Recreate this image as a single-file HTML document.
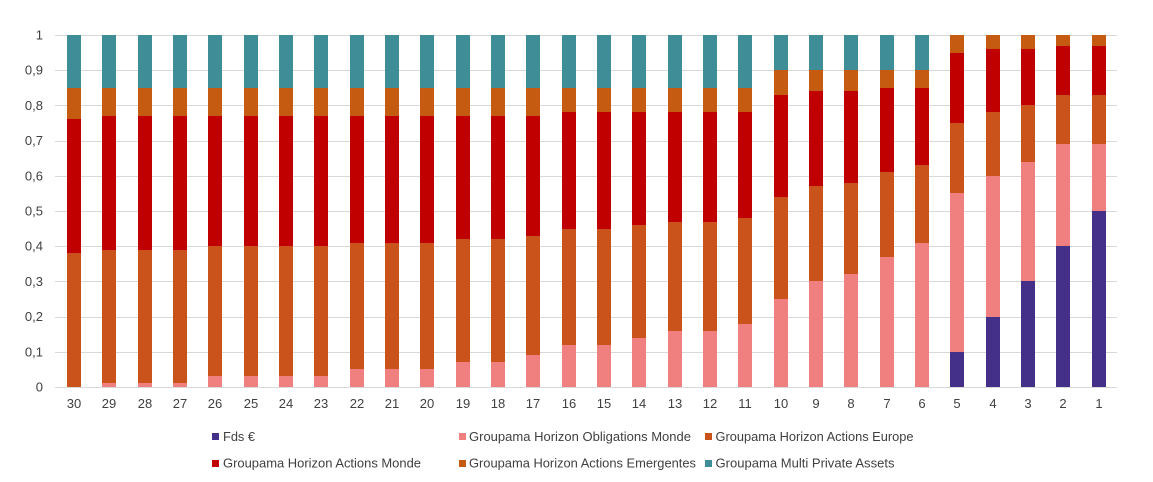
<!DOCTYPE html>
<html><head><meta charset="utf-8"><style>
html,body{margin:0;padding:0;background:#fff;}
svg{display:block;}
text{font-family:"Liberation Sans",sans-serif;fill:#404040;}
</style></head><body>
<svg width="1153" height="482" viewBox="0 0 1153 482" xmlns="http://www.w3.org/2000/svg" shape-rendering="crispEdges">
<g id="grid" stroke="#d9d9d9" stroke-width="1"></g>
<g id="bars"></g>
<g id="ylab" font-size="13" text-anchor="end"></g>
<g id="xlab" font-size="13" text-anchor="middle"></g>
<g font-size="13">
<rect x="212" y="433" width="7" height="7" fill="#443088"/>
<text x="223" y="441" textLength="32" lengthAdjust="spacingAndGlyphs">Fds €</text>
<rect x="459" y="433" width="7" height="7" fill="#F08080"/>
<text x="469" y="441" textLength="222" lengthAdjust="spacingAndGlyphs">Groupama Horizon Obligations Monde</text>
<rect x="705" y="433" width="7" height="7" fill="#CA531C"/>
<text x="715.5" y="441" textLength="198" lengthAdjust="spacingAndGlyphs">Groupama Horizon Actions Europe</text>
<rect x="212" y="460" width="7" height="7" fill="#C00000"/>
<text x="223" y="467.5" textLength="198" lengthAdjust="spacingAndGlyphs">Groupama Horizon Actions Monde</text>
<rect x="459" y="460" width="7" height="7" fill="#C55A11"/>
<text x="469" y="467.5" textLength="227" lengthAdjust="spacingAndGlyphs">Groupama Horizon Actions Emergentes</text>
<rect x="705" y="460" width="7" height="7" fill="#3F8D96"/>
<text x="715.5" y="467.5" textLength="179" lengthAdjust="spacingAndGlyphs">Groupama Multi Private Assets</text>
</g>
</svg>
<script>
(function(){
var NS="http://www.w3.org/2000/svg";
function y(v){return 387-352*v;}
var grid=document.getElementById("grid"),ylab=document.getElementById("ylab"),xlab=document.getElementById("xlab"),bars=document.getElementById("bars");
for(var i=0;i<=10;i++){
 var yy=Math.round(y(i/10))+0.5;
 var l=document.createElementNS(NS,"line");
 l.setAttribute("x1",55);l.setAttribute("x2",1117);l.setAttribute("y1",yy);l.setAttribute("y2",yy);
 grid.appendChild(l);
 var t=document.createElementNS(NS,"text");
 t.setAttribute("x",43);t.setAttribute("y",y(i/10)+4.5);
 t.textContent=(i==0?"0":(i==10?"1":"0,"+i));
 ylab.appendChild(t);
}
var fds=[0,0,0,0,0,0,0,0,0,0,0,0,0,0,0,0,0,0,0,0,0,0,0,0,0,.1,.2,.3,.4,.5];
var obl=[0,.01,.01,.01,.03,.03,.03,.03,.05,.05,.05,.07,.07,.09,.12,.12,.14,.16,.16,.18,.25,.30,.32,.37,.41,.55,.60,.64,.69,.69];
var eur=[.38,.39,.39,.39,.40,.40,.40,.40,.41,.41,.41,.42,.42,.43,.45,.45,.46,.47,.47,.48,.54,.57,.58,.61,.63,.75,.78,.80,.83,.83];
var mon=[.76,.77,.77,.77,.77,.77,.77,.77,.77,.77,.77,.77,.77,.77,.78,.78,.78,.78,.78,.78,.83,.84,.84,.85,.85,.95,.96,.96,.97,.97];
var em=[];var pa=[];
for(var k=0;k<30;k++){em.push(k<20?.85:(k<25?.90:1));pa.push(1);}
var series=[[fds,"#443088"],[obl,"#F08080"],[eur,"#CA531C"],[mon,"#C00000"],[em,"#C55A11"],[pa,"#3F8D96"]];
for(var k=0;k<30;k++){
 var x=Math.round(67+35.33*k);var prev=0;
 for(var s=0;s<series.length;s++){
  var top=series[s][0][k];
  if(top>prev+1e-9){
   var r=document.createElementNS(NS,"rect");
   var y1=Math.round(y(top)),y0=Math.round(y(prev));
   r.setAttribute("x",x);r.setAttribute("width",14);
   r.setAttribute("y",y1);r.setAttribute("height",y0-y1);
   r.setAttribute("fill",series[s][1]);
   bars.appendChild(r);
  }
  if(top>prev)prev=top;
 }
 var t=document.createElementNS(NS,"text");
 t.setAttribute("x",x+7);t.setAttribute("y",408);
 t.textContent=String(30-k);
 xlab.appendChild(t);
}
})();
</script>
</body></html>
